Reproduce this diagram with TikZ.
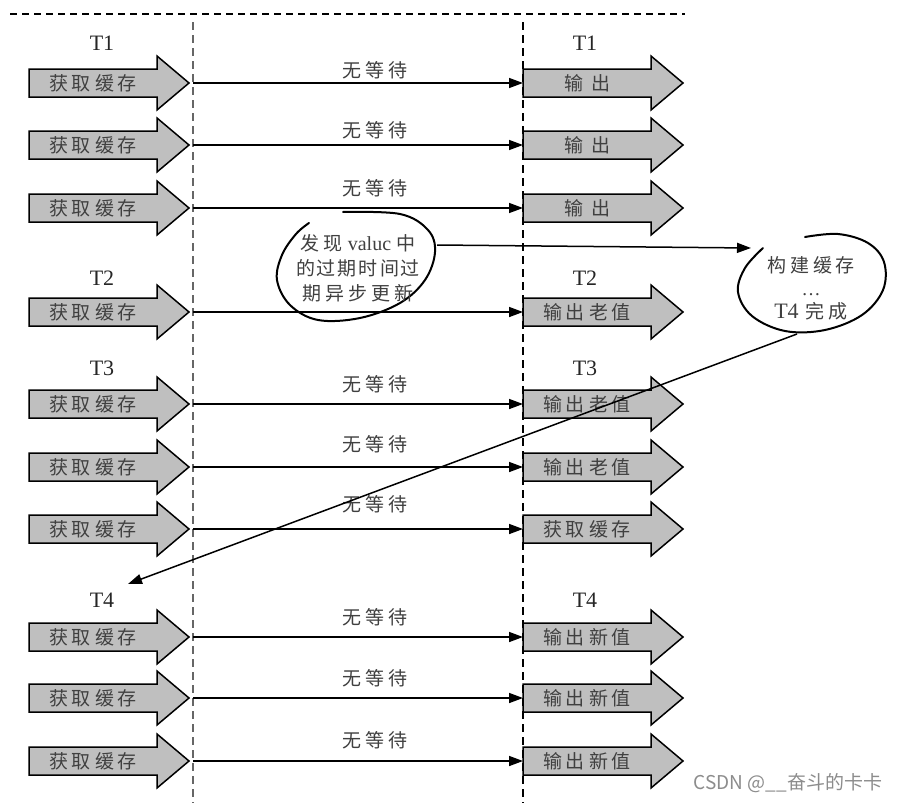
\documentclass[tikz,border=0pt]{standalone}
\usepackage{fontspec}
\setmainfont{Liberation Serif}
\newfontfamily\cjk{Noto Sans CJK SC}
\usetikzlibrary{arrows.meta}
\newcommand{\cg}{\hspace{4pt}}
\newcommand{\garrow}[4]{%
  \draw[arrbox] (#2,#3-14) -- (#2+128,#3-14) -- (#2+128,#3-27) -- (#2+160,#3)
     -- (#2+128,#3+27) -- (#2+128,#3+14) -- (#2,#3+14) -- cycle;
  \node[atext] (#1) at (#2+64,#3) {#4};
}
\begin{document}
\begin{tikzpicture}[x=1pt,y=-1pt,
  arrbox/.style={draw=black,line width=1.5pt,fill=black!25,line join=miter},
  atext/.style={font=\cjk\fontsize{19}{21}\selectfont,text=black!75,inner sep=0pt},
  tlabel/.style={font=\fontsize{22}{24}\selectfont,inner sep=0pt,text=black!85},
  conn/.style={line width=1.5pt,-{Triangle[length=14pt,width=10pt]}},
  wlabel/.style={font=\cjk\fontsize{19}{21}\selectfont,text=black!75,inner sep=0pt},
  bubble/.style={line width=2pt,line cap=round},
  btext/.style={font=\cjk\fontsize{19}{25}\selectfont,text=black!75,align=center,inner sep=0pt},
  ]
\useasboundingbox (0,0) rectangle (899,803);
\fill[white] (0,0) rectangle (899,803);

% frame lines
\draw[line width=1.2pt,dash pattern=on 7pt off 5pt] (10,14) -- (685,14);
\draw[black!60,line width=1.4pt,dash pattern=on 8pt off 5pt] (193,22) -- (193,803);
\draw[black,line width=1.4pt,dash pattern=on 8pt off 5pt] (523,22) -- (523,803);

% T labels
\node[tlabel] (tl1) at (102,43) {T1};
\node[tlabel] (tr1) at (585,43) {T1};
\node[tlabel] (tl2) at (102,278) {T2};
\node[tlabel] (tr2) at (585,278) {T2};
\node[tlabel] (tl3) at (102,368) {T3};
\node[tlabel] (tr3) at (585,368) {T3};
\node[tlabel] (tl4) at (102,600) {T4};
\node[tlabel] (tr4) at (585,600) {T4};

% rows
\foreach \i/\y in {1/83,2/145,3/208,4/312,5/404,6/467,7/529,8/637,9/698,10/761}{
  \garrow{L\i}{29}{\y}{获\cg 取\cg 缓\cg 存}
  \coordinate (Lo\i) at (193,\y);
  \coordinate (Ri\i) at (523,\y);
}
\foreach \i/\y in {1/83,2/145,3/208}{
  \garrow{R\i}{523}{\y}{输\hspace{8pt}出}
}
\foreach \i/\y in {4/312,5/404,6/467}{
  \garrow{R\i}{523}{\y}{输\cg 出\cg 老\cg 值}
}
\garrow{R7}{523}{529}{获\cg 取\cg 缓\cg 存}
\foreach \i/\y in {8/637,9/698,10/761}{
  \garrow{R\i}{523}{\y}{输\cg 出\cg 新\cg 值}
}

% connectors
\foreach \i in {1,...,10}{
  \draw[conn] (Lo\i) -- (Ri\i);
}
\foreach \i/\y in {1/70,2/130,3/188,5/384,6/444,7/504,8/617,9/678,10/740}{
  \node[wlabel] (w\i) at (375,\y) {无\cg 等\cg 待};
}

% bubble 1
\draw[bubble] plot[smooth,tension=0.6] coordinates {(343,212) (400,214) (428,230) (435,252) (425,280) (400,303) (360,318) (318,320) (290,305) (277,280) (282,255) (296,234) (309,223)};
\node[btext] (E1) at (358,268) {发\cg 现\hspace{5pt}{\rmfamily\fontsize{20}{25}\selectfont valuc}\hspace{5pt}中\\的\hspace{2pt}过\hspace{2pt}期\hspace{2pt}时\hspace{2pt}间\hspace{2pt}过\\期\cg 异\cg 步\cg 更\cg 新};

% bubble 2
\draw[bubble] plot[smooth,tension=0.6] coordinates {(763,248) (745,268) (738,292) (752,316) (785,331) (825,330) (862,315) (883,290) (884,262) (868,243) (838,234) (805,237)};
\node[btext,font=\cjk\fontsize{19}{23}\selectfont] (E2) at (811,288) {构\cg 建\cg 缓\cg 存\\{\rmfamily\ldots}\\{\rmfamily\fontsize{22}{23}\selectfont T4}\hspace{7pt}完\cg 成};

\coordinate (E1out) at (437,245);
\coordinate (E2in) at (751,248);
\coordinate (E2out) at (797,334);
\coordinate (T4in) at (128,584);
\draw[conn] (E1out) -- (E2in);
\draw[conn] (E2out) -- (T4in);

% watermark
\node[font=\cjk\fontsize{19}{21}\selectfont,text=black!45,inner sep=0pt] (wm) at (788,783) {CSDN @\_\_奋斗的卡卡};
\end{tikzpicture}
\end{document}
